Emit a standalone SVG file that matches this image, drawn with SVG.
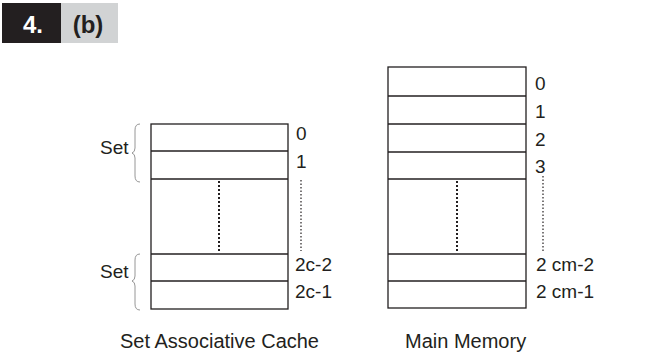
<svg xmlns="http://www.w3.org/2000/svg" width="646" height="360" viewBox="0 0 646 360">
<style>
text{font-family:"Liberation Sans",Arial,sans-serif;fill:#231f20}
.lbl{font-size:19px}
.cap{font-size:20px}
.box{fill:#fff;stroke:#231f20;stroke-width:1.3}
.row{stroke:#231f20;stroke-width:1.6}
.dotin{stroke:#231f20;stroke-width:2;stroke-dasharray:2 2}
.dotout{stroke:#231f20;stroke-width:1.2;stroke-dasharray:1.5 2}
.brace{fill:none;stroke:#8a8a8a;stroke-width:0.9}
</style>
<rect width="646" height="360" fill="#fff"/>
<g id="header">
<rect x="2" y="3" width="59" height="40" fill="#231f20"/>
<rect x="61" y="3" width="57" height="40" fill="#d1d3d4"/>
<text x="33" y="33" text-anchor="middle" style="font-size:24px;font-weight:bold;fill:#fff">4.</text>
<text x="88" y="33" text-anchor="middle" style="font-size:24px;font-weight:bold">(b)</text>
</g>
<g id="cache">
<rect class="box" x="151" y="124" width="137" height="185"/>
<line class="row" x1="151" y1="151" x2="288" y2="151"/>
<line class="row" x1="151" y1="179" x2="288" y2="179"/>
<line class="row" x1="151" y1="254" x2="288" y2="254"/>
<line class="row" x1="151" y1="281" x2="288" y2="281"/>
<line class="dotin" x1="219" y1="181" x2="219" y2="252"/>
<line class="dotout" x1="301" y1="180" x2="301" y2="251"/>
<text class="lbl" x="296" y="140">0</text>
<text class="lbl" x="296" y="168">1</text>
<text class="lbl" x="295" y="271">2c-2</text>
<text class="lbl" x="295" y="298">2c-1</text>
<text class="cap" x="120" y="348">Set Associative Cache</text>
</g>
<g id="set1">
<path class="brace" d="M140 124 Q135 124 135 130 L135 148 Q135 152 132 153 Q135 154 135 158 L135 176 Q135 182 140 182"/>
<text class="lbl" x="100" y="154">Set</text>
</g>
<g id="set2">
<path class="brace" d="M140 254 Q135 254 135 260 L135 276 Q135 280 132 281 Q135 282 135 286 L135 304 Q135 310 140 310"/>
<text class="lbl" x="100" y="278">Set</text>
</g>
<g id="memory">
<rect class="box" x="388" y="67" width="138" height="241"/>
<line class="row" x1="388" y1="96" x2="526" y2="96"/>
<line class="row" x1="388" y1="124" x2="526" y2="124"/>
<line class="row" x1="388" y1="152" x2="526" y2="152"/>
<line class="row" x1="388" y1="179" x2="526" y2="179"/>
<line class="row" x1="388" y1="254" x2="526" y2="254"/>
<line class="row" x1="388" y1="281" x2="526" y2="281"/>
<line class="dotin" x1="457" y1="181" x2="457" y2="252"/>
<line class="dotout" x1="543" y1="176" x2="543" y2="251"/>
<text class="lbl" x="535" y="90">0</text>
<text class="lbl" x="535" y="118">1</text>
<text class="lbl" x="535" y="146">2</text>
<text class="lbl" x="535" y="173">3</text>
<text class="lbl" x="536" y="271">2 cm-2</text>
<text class="lbl" x="536" y="298">2 cm-1</text>
<text class="cap" x="405" y="348">Main Memory</text>
</g>
<g id="connectors"></g>
</svg>
